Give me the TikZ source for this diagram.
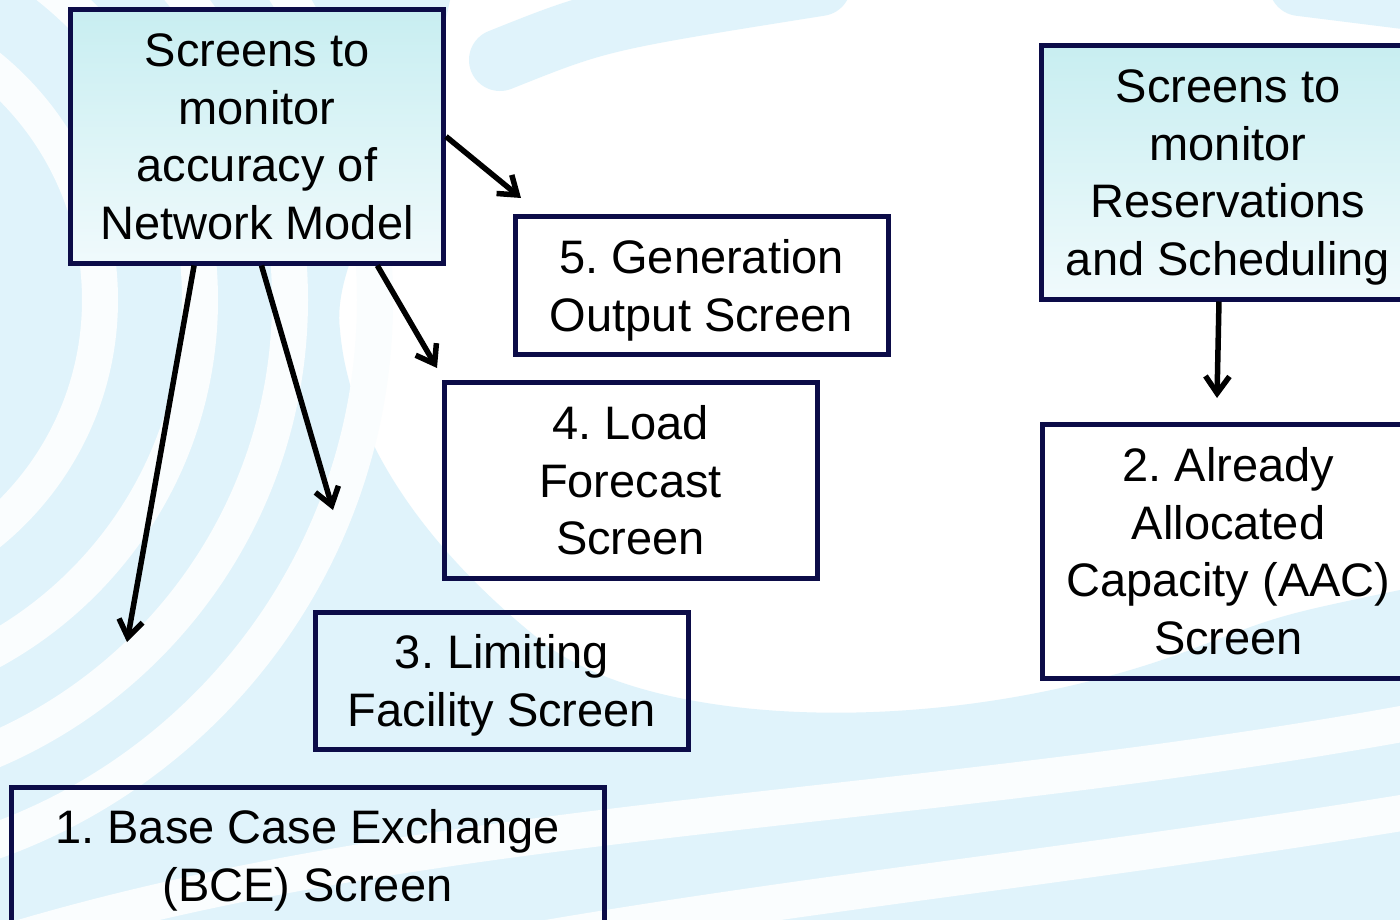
\documentclass[tikz,border=0pt]{standalone}
\usepackage{fontspec}
\setmainfont{Liberation Sans}
\usetikzlibrary{arrows.meta}
\definecolor{navy}{RGB}{12,12,72}
\definecolor{swirlblue}{RGB}{224,243,251}
\definecolor{cyantop}{RGB}{200,238,241}
\definecolor{cyanbot}{RGB}{240,250,252}
\frenchspacing
\begin{document}
\begin{tikzpicture}[x=1pt, y=-1pt, >={Straight Barb[length=17pt,width=24pt]},
  every node/.style={draw=navy, line width=5pt, align=center, inner sep=0pt, text depth=0pt, font=\fontsize{47}{57.5}\selectfont},
  screenbox/.style={minimum width=373pt},
  topbox/.style={screenbox, minimum height=253pt, top color=cyantop, bottom color=cyanbot},
  link/.style={->, line width=5.5pt},
  gap/.style={draw=white!85!swirlblue, line width=36pt},
  swirl/.style={draw=swirlblue, line width=62pt, line cap=round}]

\useasboundingbox (0,0) rectangle (1400,920);
\clip (0,0) rectangle (1400,920);
\fill[white] (0,0) rectangle (1400,920);

\fill[swirlblue] (0,0) -- (450,0) .. controls (420,150) and (330,250) .. (340,330)
  .. controls (350,450) and (440,560) .. (540,640) .. controls (650,730) and (950,740) .. (1190,650)
  .. controls (1280,615) .. (1400,590) -- (1400,920) -- (0,920) -- cycle;
\foreach \r in {300,400,490,575}
  \draw[gap] (-200,300) ++(-90:\r) arc[start angle=-90, end angle=90, radius=\r];
\draw[gap] (-50,960) .. controls (400,810) and (900,820) .. (1450,715);
\draw[gap] (300,985) .. controls (700,900) and (1000,880) .. (1450,805);
\draw[swirl] (500,60) .. controls (600,20) .. (820,-15);
\draw[swirl] (1300,-15) -- (1420,0);

\node[topbox] (netmodel) at (257,136.5) {Screens to\\monitor\\accuracy of\\Network Model};
\node[topbox] (resched) at (1228,172.5) {Screens to\\monitor\\Reservations\\and Scheduling};
\node[screenbox, minimum height=137pt] (genout) at (701.5,285.5) {5. Generation\\Output Screen};
\node[screenbox, minimum height=196pt] (loadfc) at (630.5,480) {4. Load\\Forecast\\Screen};
\node[screenbox, minimum height=137pt] (limfac) at (502,680.5) {3. Limiting\\Facility Screen};
\node[minimum width=593pt, minimum height=137pt] (bce) at (307.5,855.5) {1. Base Case Exchange\\(BCE) Screen};
\node[screenbox, minimum height=254pt] (aac) at (1228.5,551) {2. Already\\Allocated\\Capacity (AAC)\\Screen};

\coordinate (tip5) at (521,198);
\coordinate (tip4) at (437,368);
\coordinate (tip3) at (333,510);
\coordinate (tip1) at (127,642);
\coordinate (tip2) at (1217,398);

\draw[link] (netmodel.east) -- (tip5);
\draw[link] (netmodel.-47.5) -- (tip4);
\draw[link] (netmodel.-88) -- (tip3);
\draw[link] (netmodel.244) -- (tip1);
\draw[link] (resched.-94) -- (tip2);

\end{tikzpicture}
\end{document}
